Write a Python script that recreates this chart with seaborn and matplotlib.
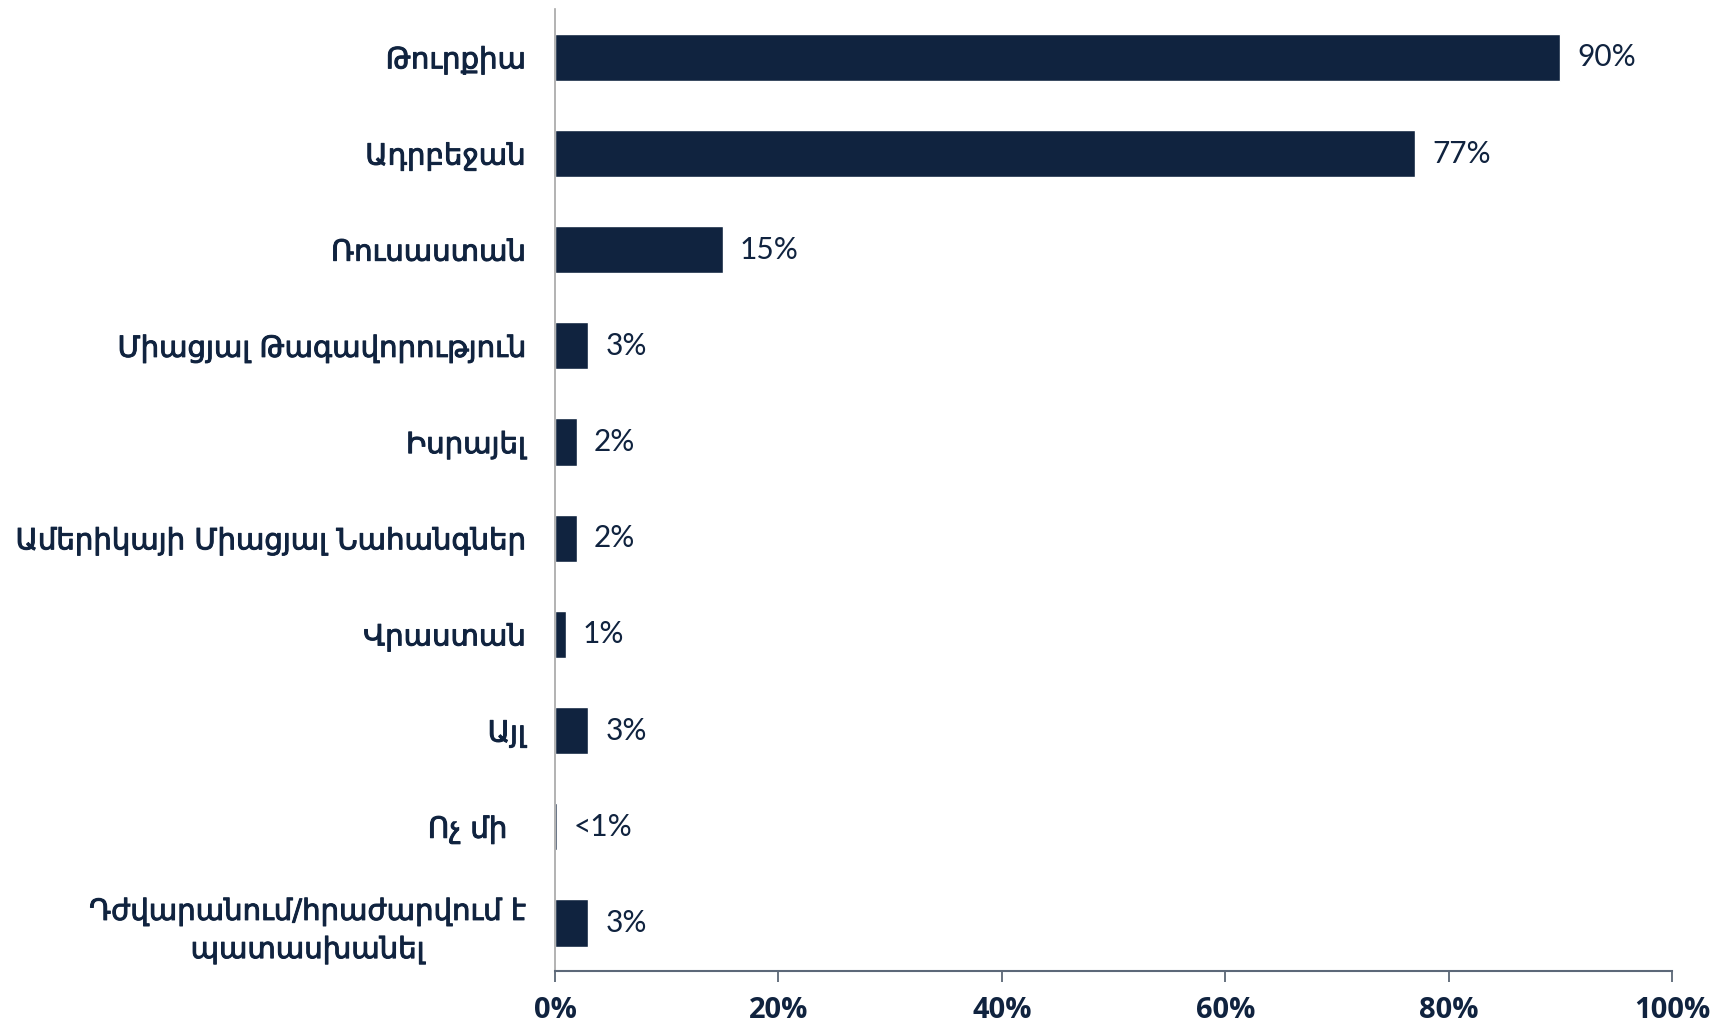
import numpy as np
import matplotlib
matplotlib.use("Agg")
import matplotlib.pyplot as plt
import matplotlib.patheffects as pe
import seaborn as sns

categories = [
    "Թուրքիա",
    "Ադրբեջան",
    "Ռուսաստան",
    "Միացյալ Թագավորություն",
    "Իսրայել",
    "Ամերիկայի Միացյալ Նահանգներ",
    "Վրաստան",
    "Այլ",
    "Ոչ մի  ",
    "Դժվարանում/հրաժարվում է\nպատասխանել",
]
values = [90, 77, 15, 3, 2, 2, 1, 3, 0.2, 3]
value_labels = ["90%", "77%", "15%", "3%", "2%", "2%", "1%", "3%", "<1%", "3%"]
x_ticks = [0, 20, 40, 60, 80, 100]

navy = "#10233f"

sns.set_theme(style="white")
plt.rcParams["font.family"] = ["DejaVu Sans"]

fig = plt.figure(figsize=(17.31, 10.27), dpi=100)
ax = fig.add_axes([0.3206, 0.0545, 0.966 - 0.3206, 0.991 - 0.0545])

sns.barplot(x=values, y=categories, orient="h", color=navy, width=0.49,
            saturation=1, ax=ax)

ax.set_xlim(0, 100)
ax.set_ylim(len(categories) - 0.5, -0.5)

for i, (v, lab) in enumerate(zip(values, value_labels)):
    ax.text(v + 1.5, i, lab, va="center", ha="left", fontsize=21.5,
            color=navy, family=["Lato", "DejaVu Sans"])

# category labels
ax.set_yticks(range(len(categories)))
ax.set_yticklabels(categories, fontsize=21, color=navy, ha="right",
                   multialignment="center")
for t in ax.get_yticklabels():
    t.set_path_effects([pe.withStroke(linewidth=0.7, foreground=navy)])
    t.set_linespacing(1.45)
ax.tick_params(axis="y", which="major", length=0, pad=21)
ax.set_yticks(np.arange(-0.5, len(categories), 1), minor=True)
ax.tick_params(axis="y", which="minor", length=9, width=1.2, color="#a6a6a6")

ax.set_xticks(x_ticks)
ax.set_xticklabels([f"{t}%" for t in x_ticks], fontsize=21, color=navy,
                   fontweight="bold", family=["Open Sans", "DejaVu Sans"])
ax.tick_params(axis="x", length=8, width=1.2, color="#4d5a6a", pad=10,
               direction="out", bottom=True)

for s in ["top", "right"]:
    ax.spines[s].set_visible(False)
ax.spines["left"].set_color("#a6a6a6")
ax.spines["left"].set_linewidth(1.2)
ax.spines["bottom"].set_color("#5c6878")
ax.spines["bottom"].set_linewidth(1.5)
ax.set_xlabel("")
ax.set_ylabel("")

fig.savefig("out.png", dpi=100)
